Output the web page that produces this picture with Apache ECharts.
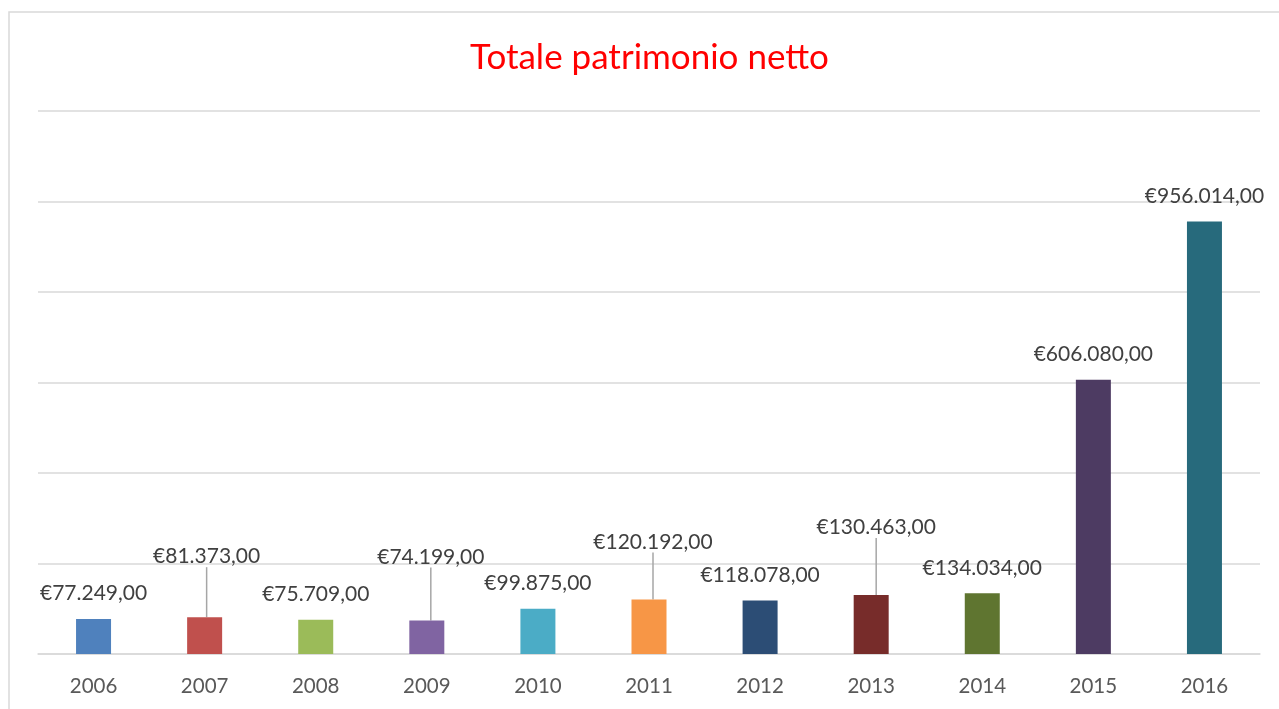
<!DOCTYPE html>
<html>
<head>
<meta charset="utf-8">
<script src="https://cdn.jsdelivr.net/npm/echarts@6/dist/echarts.min.js"></script>
<style>
html,body{margin:0;padding:0;background:#fff;}
#chart{width:1279px;height:709px;}
</style>
</head>
<body>
<div id="chart"></div>
<script>
var categories = ['2006','2007','2008','2009','2010','2011','2012','2013','2014','2015','2016'];
var values = [77249, 81373, 75709, 74199, 99875, 120192, 118078, 130463, 134034, 606080, 956014];
var barColors = ['#4F81BD','#C0504D','#9BBB59','#8064A2','#4BACC6','#F79646','#2C4D75','#772C2A','#5F7530','#4D3B62','#276A7C'];
var yTicks = [0, 200000, 400000, 600000, 800000, 1000000, 1200000];
// label shifts (moved labels with leader lines)
var labelShift = {1: [2, -35], 3: [4, -38], 5: [4, -32], 7: [5, -42]};

function fmt(v) {
  var s = String(Math.round(v));
  var out = '';
  while (s.length > 3) { out = '.' + s.slice(-3) + out; s = s.slice(0, -3); }
  return '€' + s + out + ',00';
}

var chart = echarts.init(document.getElementById('chart'));
var FONT = 'Lato';
chart.setOption({
  animation: false,
  backgroundColor: '#fff',
  textStyle: {fontFamily: FONT},
  title: {
    text: 'Totale patrimonio netto',
    left: 470,
    top: 40,
    padding: 0,
    textStyle: {color: '#FF0000', fontSize: 35, fontWeight: 'normal', fontFamily: FONT}
  },
  graphic: [{
    type: 'rect',
    shape: {x: 9, y: 12, width: 1300, height: 720},
    style: {fill: 'none', stroke: '#d9d9d9', lineWidth: 1.5},
    silent: true,
    z: -1
  }],
  grid: {left: 38, right: 19, top: 111, bottom: 55, containLabel: false},
  xAxis: {
    type: 'category',
    data: categories,
    axisLine: {show: true, lineStyle: {color: '#d9d9d9', width: 1.5}},
    axisTick: {show: false},
    axisLabel: {color: '#595959', fontSize: 20.5, margin: 22, fontFamily: FONT}
  },
  yAxis: {
    type: 'value',
    min: yTicks[0],
    max: yTicks[yTicks.length - 1],
    interval: yTicks[1] - yTicks[0],
    axisLabel: {show: false},
    axisLine: {show: false},
    axisTick: {show: false},
    splitLine: {lineStyle: {color: '#d9d9d9', width: 1.5}}
  },
  series: [{
    type: 'bar',
    barWidth: 35,
    data: values.map(function (v, i) {
      var item = {value: v, itemStyle: {color: barColors[i]}};
      if (labelShift[i]) item.labelLine = {show: true};
      return item;
    }),
    label: {
      show: true,
      position: 'top',
      distance: 15,
      color: '#404040',
      fontSize: 21,
      fontFamily: FONT,
      formatter: function (p) { return fmt(p.value); }
    },
    labelLine: {show: false, lineStyle: {color: '#a6a6a6', width: 1.5}},
    labelLayout: function (p) {
      var s = labelShift[p.dataIndex];
      if (s) return {dx: s[0], dy: s[1]};
      return {};
    }
  }]
});
</script>
</body>
</html>
